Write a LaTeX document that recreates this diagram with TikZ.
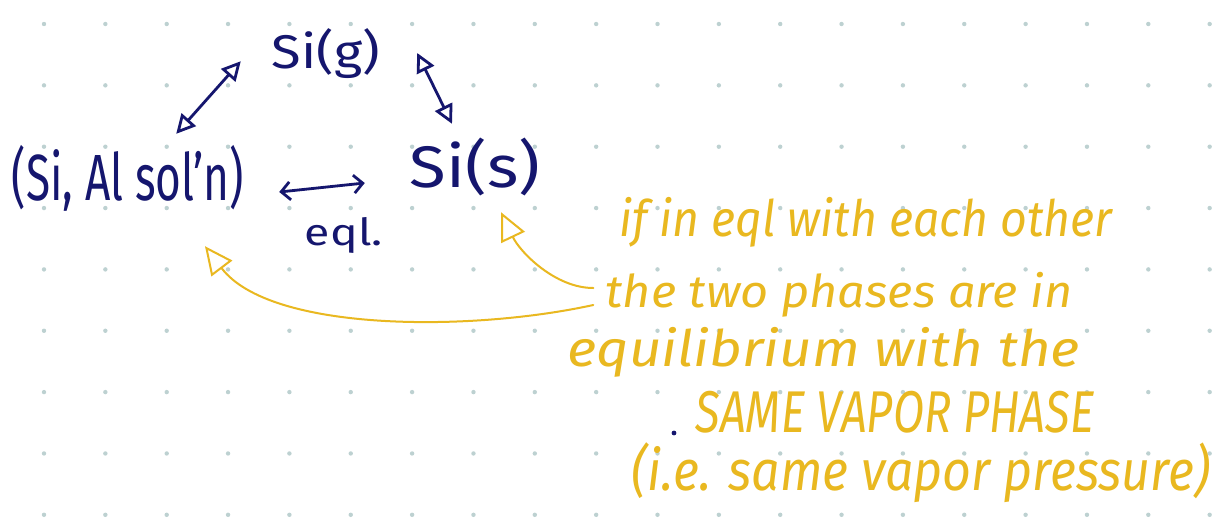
\documentclass[tikz,border=0pt]{standalone}
\usepackage{fontspec}
\setmainfont{Fira Sans}
\usetikzlibrary{arrows.meta,calc}
\definecolor{navy}{HTML}{15166E}
\definecolor{gold}{HTML}{E9B820}
\definecolor{dotc}{HTML}{BDD1D1}
\newcommand{\fitbox}[3]{\resizebox*{#1}{#2}{#3}}
\tikzset{
  ntip/.tip={Triangle[open,length=19pt,width=19pt]},
  btip/.tip={Straight Barb[length=9pt,width=18pt]},
  ytip/.tip={Triangle[open,length=28pt,width=26pt]}
}
\begin{document}
\begin{tikzpicture}[x=1pt,y=-1pt,
  blue/.style={text=navy, inner sep=0pt},
  note/.style={text=gold, font=\itshape, inner sep=0pt},
  nconn/.style={draw=navy, line width=2.8pt, line cap=round, line join=round},
  yconn/.style={draw=gold, line width=2pt, line cap=round, line join=round}]
\useasboundingbox (0,0) rectangle (1223,520);
\fill[white] (0,0) rectangle (1223,520);
% dotted grid
\foreach \i in {0,...,19}{
  \foreach \j in {0,...,8}{
    \fill[dotc] (44+61.35*\i, 24+61.35*\j) circle (2.2pt);
  }
}
% navy nodes
\node[blue] (sig) at (326,54) {\fitbox{108pt}{50pt}{Si(g)}};
\node[blue] (sol) at (128,178) {\fitbox{232pt}{66pt}{(Si, Al sol'n)}};
\node[blue] (sis) at (475,167) {\fitbox{130pt}{58pt}{Si(s)}};
\node[blue] (eql) at (344,235) {\fitbox{78pt}{36pt}{eql.}};
% navy connectors
\draw[nconn, ntip-ntip] ([shift={(-68,-11)}]sol.north east) -- ([shift={(-31,-18)}]sig.south west);
\draw[nconn, ntip-ntip] ([shift={(37,-1)}]sig.east) -- ([shift={(-23,-14)}]sis.north);
\draw[nconn, btip-btip] ([shift={(35,14)}]sol.east) -- ([shift={(-45,16)}]sis.west);
% yellow note
\node[note] (l1) at (866,222) {\fitbox{493pt}{50pt}{if in eql with each other}};
\node[note] (l2) at (839,295) {\fitbox{467pt}{45pt}{the two phases are in}};
\node[note] (l3) at (824,352) {\fitbox{512pt}{50pt}{equilibrium with the}};
\node[note] (l4) at (895,412) {\fitbox{398pt}{42pt}{SAME VAPOR PHASE}};
\node[note] (l5) at (921,473) {\fitbox{578pt}{60pt}{(i.e. same vapor pressure)}};
\fill[navy] (674,433) circle (2.4pt);
% yellow connectors
\draw[yconn, -ytip] ([shift={(-12,10)}]l2.west) .. controls (470,332) and (270,332) .. ([shift={(77,35)}]sol.south);
\draw[yconn, -ytip] ([shift={(-12,-7)}]l2.west) .. controls (555,288) and (520,252) .. ([shift={(26,16)}]sis.south);
\end{tikzpicture}
\end{document}
